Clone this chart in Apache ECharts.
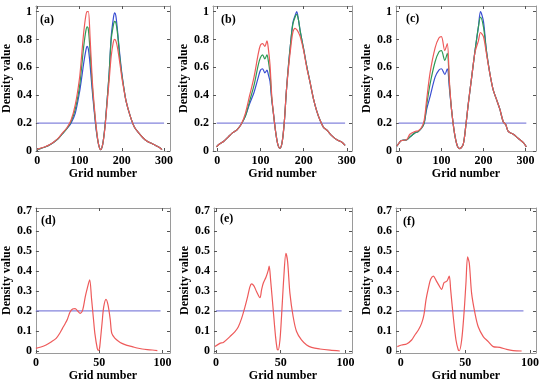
<!DOCTYPE html>
<html><head><meta charset="utf-8">
<script src="https://cdn.jsdelivr.net/npm/echarts@6/dist/echarts.min.js"></script>
<style>html,body{margin:0;padding:0;background:#fff}#c{width:550px;height:383px}</style>
</head><body><div id="c"></div>
<script>
// ---- tick labels ----
const xTicksTop = [0, 100, 200, 300];
const xTicksBottom = [0, 50, 100];
const yTicksTop = [0, 0.2, 0.4, 0.6, 0.8, 1];
const yTicksBottom = [0, 0.1, 0.2, 0.3, 0.4, 0.5, 0.6, 0.7];
const threshold = 0.2;

// ---- panel (a) ----
const aX = [0,10,20,30,40,50,60,70,80,90, 100,105,110,115,118,121,125,130,135,140, 145,150,155,160,165,170,175,180,183,186, 190,195,200,205,210,220,230,240,250,260, 270,280,290,295];
const aBlue = [.01,.02,.03,.045,.065,.09,.125,.16,.2,.27, .42,.52,.63,.72,.75,.73,.62,.44,.28,.14, .05,.01,.05,.17,.35,.55,.82,.95,.99,.97, .86,.7,.56,.45,.36,.25,.17,.13,.095,.07, .055,.04,.024,.01];
const aGreen = [.01,.02,.03,.045,.065,.09,.125,.16,.21,.3, .46,.6,.75,.86,.89,.87,.72,.48,.3,.15, .05,.01,.05,.17,.35,.55,.8,.9,.93,.92, .84,.68,.55,.45,.36,.25,.17,.13,.095,.07, .055,.04,.024,.01];
const aRed = [.012,.022,.032,.047,.067,.092,.13,.165,.22,.33, .52,.68,.85,.97,1.0,1.0,.82,.52,.32,.16, .05,.01,.05,.16,.33,.5,.68,.78,.8,.79, .74,.64,.53,.44,.36,.25,.17,.13,.095,.07, .055,.04,.024,.01];

// ---- panel (b) ----
const bX = [-2,5,15,25,35,40,45,55,65,75, 85,95,100,105,110,115,118,122,126,130, 135,140,145,150,155,160,165,170,175,180, 184,188,192,200,207,215,223,230,238,246, 254,265,277,288,296];
const bBlue = [.03,.05,.07,.1,.13,.14,.15,.19,.25,.34, .42,.53,.58,.59,.56,.58,.55,.5,.37,.27, .14,.05,.02,.06,.2,.43,.62,.78,.92,.97, 1.0,.94,.86,.73,.61,.49,.37,.29,.22,.17, .15,.11,.08,.065,.04];
const bGreen = [.03,.05,.07,.1,.13,.14,.15,.19,.25,.36, .47,.62,.67,.69,.66,.69,.65,.56,.38,.27, .14,.05,.02,.06,.2,.43,.62,.78,.91,.96, .98,.94,.86,.73,.61,.49,.37,.29,.22,.17, .15,.11,.08,.065,.04];
const bRed = [.03,.05,.07,.1,.13,.14,.15,.19,.27,.4, .53,.7,.76,.77,.75,.79,.74,.62,.4,.27, .14,.05,.02,.06,.2,.43,.6,.74,.85,.88, .87,.85,.82,.72,.6,.49,.37,.29,.22,.17, .15,.11,.08,.065,.04];

// ---- panel (c) ----
const cX = [-6,0,5,17,25,37,45,53,59,65, 73,85,94,100,108,114,119,124,131,138, 144,152,158,164,172,180,188,193,200,207, 215,223,231,239,247,253,259,271,283,295, 302];
const cBlue = [.035,.06,.075,.08,.1,.13,.14,.165,.2,.3, .39,.53,.58,.59,.55,.59,.45,.3,.13,.035, .017,.05,.18,.34,.53,.72,.89,1.0,.93,.72, .56,.44,.37,.3,.21,.19,.14,.12,.09,.06, .03];
const cGreen = [.035,.06,.075,.08,.1,.13,.14,.165,.2,.33, .48,.64,.71,.72,.65,.7,.48,.3,.13,.035, .017,.05,.18,.34,.53,.72,.89,.96,.89,.72, .56,.44,.37,.3,.21,.19,.14,.12,.09,.06, .03];
const cRed = [.035,.06,.075,.08,.12,.14,.145,.17,.22,.37, .56,.74,.81,.82,.72,.77,.5,.3,.13,.035, .017,.05,.18,.34,.53,.71,.79,.85,.82,.7, .56,.44,.37,.3,.21,.19,.14,.12,.09,.06, .03];

// ---- panel (d) ----
const dX = [0,4,8,12,16,19,21,23,25,27, 29,31,33,35,37,39,40.5,42.5,44,45.5, 46.6,48.5,49.3,50.2,51,52.3,53.6,55.4,57,58.8, 60,62.6,65,68,72,76,80,84,88,92, 96];
const dRed = [.013,.02,.03,.045,.063,.09,.113,.135,.16,.195, .21,.212,.2,.188,.205,.27,.31,.355,.26,.16, .088,.013,.003,.01,.055,.14,.22,.258,.23,.155, .088,.063,.05,.038,.028,.022,.015,.01,.007,.005, .002];

// ---- panel (e) ----
const eX = [-0.8,3,5.7,10.8,14.7,17.2,19.8,22.4,24.4,26.2, 27.5,29.3,31.4,34,35.2,36.5,38.6,40.4,41.1,42.2, 44.2,46,47.3,48,49.4,50.6,52.4,54,55.3,57.1, 59.6,62.2,66,70,73.8,80.2,88,95.6];
const eRed = [.022,.038,.043,.072,.097,.12,.163,.22,.27,.32, .335,.325,.296,.266,.305,.338,.368,.404,.424,.354, .205,.072,.008,.005,.055,.171,.371,.487,.446,.288, .171,.097,.055,.03,.018,.01,.004,0];

// ---- panel (f) ----
const fX = [-2.6,0.8,4.6,8.5,11,13.7,16.2,18,19.6,21.4, 23.2,25.3,27.3,29.4,31.7,33.5,35,36,37.6,38.7, 40.7,42.8,44.6,45.4,47.2,49,50.5,51.8,53.1,54.9, 57.5,60,63.9,67.8,71.6,76.8,82,87,93.6];
const fRed = [.022,.03,.035,.055,.08,.105,.138,.18,.255,.313, .358,.374,.354,.33,.308,.341,.346,.351,.374,.305, .171,.055,.005,.002,.055,.188,.338,.47,.438,.288, .188,.121,.072,.047,.022,.018,.008,.002,0];

// threshold line extents (grid numbers)
const lineA = [0, 300], lineB = [-1.5, 296], lineC = [-2, 302];
const lineD = [0, 98.5], lineE = [0, 97], lineF = [-1, 95];

const BLUE = '#3a4ed2', GREEN = '#2f9a55', RED = '#ee5a5a', LINE = '#8484dc';
const FONT = 'Liberation Serif';

const panels = [
  {label:'(a)', lab:[40,14], grid:{left:33,top:6,width:137,height:145}, xr:[-3,314], yr:[0,1.04], xt:xTicksTop, yt:yTicksTop, line:lineA,
   curves:[[aX,aBlue,BLUE],[aX,aGreen,GREEN],[aX,aRed,RED]]},
  {label:'(b)', lab:[221,14], grid:{left:213,top:6,width:139,height:145}, xr:[-10,312], yr:[0,1.04], xt:xTicksTop, yt:yTicksTop, line:lineB,
   curves:[[bX,bBlue,BLUE],[bX,bGreen,GREEN],[bX,bRed,RED]]},
  {label:'(c)', lab:[406,13], grid:{left:396,top:6,width:140,height:145}, xr:[-8,325], yr:[0,1.04], xt:xTicksTop, yt:yTicksTop, line:lineC,
   curves:[[cX,cBlue,BLUE],[cX,cGreen,GREEN],[cX,cRed,RED]]},
  {label:'(d)', lab:[41,215], grid:{left:33,top:208,width:137,height:145}, xr:[0,106], yr:[-0.01,0.714], xt:xTicksBottom, yt:yTicksBottom, line:lineD,
   curves:[[dX,dRed,RED]]},
  {label:'(e)', lab:[220,213], grid:{left:214,top:208,width:138,height:145}, xr:[-1.5,105], yr:[-0.01,0.714], xt:xTicksBottom, yt:yTicksBottom, line:lineE,
   curves:[[eX,eRed,RED]]},
  {label:'(f)', lab:[403,216], grid:{left:396,top:208,width:140,height:145}, xr:[-3.6,104.7], yr:[-0.01,0.714], xt:xTicksBottom, yt:yTicksBottom, line:lineF,
   curves:[[fX,fRed,RED]]}
];

const txt = {fontFamily: FONT, fontWeight: 'bold', fontSize: 12, color: '#000'};
const boxLine = {show: true, onZero: false, lineStyle: {color: '#9a9a9a', width: 1}};
const option = {animation: false, backgroundColor: '#fff', grid: [], xAxis: [], yAxis: [], series: [], title: []};

panels.forEach((p, i) => {
  option.grid.push(Object.assign({containLabel: false}, p.grid));
  option.title.push({text: p.label, left: p.lab[0], top: p.lab[1], padding: 0, textStyle: Object.assign({}, txt)});
  option.xAxis.push({gridIndex: i, type: 'value', min: p.xr[0], max: p.xr[1], position: 'bottom',
    axisLine: boxLine, splitLine: {show: false},
    axisTick: {show: true, inside: true, length: 3, customValues: p.xt, lineStyle: {color: '#555'}},
    axisLabel: {customValues: p.xt, margin: 4, ...txt},
    name: 'Grid number', nameLocation: 'middle', nameGap: 16, nameTextStyle: Object.assign({}, txt)});
  option.xAxis.push({gridIndex: i, type: 'value', min: p.xr[0], max: p.xr[1], position: 'top',
    axisLine: boxLine, splitLine: {show: false},
    axisTick: {show: true, inside: true, length: 3, customValues: p.xt, lineStyle: {color: '#555'}},
    axisLabel: {show: false}});
  option.yAxis.push({gridIndex: i, type: 'value', min: p.yr[0], max: p.yr[1], position: 'left',
    axisLine: boxLine, splitLine: {show: false},
    axisTick: {show: true, inside: true, length: 3, customValues: p.yt, lineStyle: {color: '#555'}},
    axisLabel: {customValues: p.yt, margin: 4, ...txt},
    name: 'Density value', nameLocation: 'middle', nameGap: 19, nameTextStyle: Object.assign({}, txt)});
  option.yAxis.push({gridIndex: i, type: 'value', min: p.yr[0], max: p.yr[1], position: 'right',
    axisLine: boxLine, splitLine: {show: false},
    axisTick: {show: true, inside: true, length: 3, customValues: p.yt, lineStyle: {color: '#555'}},
    axisLabel: {show: false}});
  option.series.push({type: 'line', xAxisIndex: 2*i, yAxisIndex: 2*i, silent: true, showSymbol: false,
    data: [[p.line[0], threshold], [p.line[1], threshold]], lineStyle: {color: LINE, width: 1.3}, itemStyle: {color: LINE}});
  p.curves.forEach(([xs, ys, col]) => {
    option.series.push({type: 'line', xAxisIndex: 2*i, yAxisIndex: 2*i, silent: true, showSymbol: false, smooth: 0.3,
      data: xs.map((x, k) => [x, ys[k]]), lineStyle: {color: col, width: 1.2}, itemStyle: {color: col}});
  });
});

const chart = echarts.init(document.getElementById('c'), null, {renderer: 'canvas'});
chart.setOption(option);
</script>
</body></html>
